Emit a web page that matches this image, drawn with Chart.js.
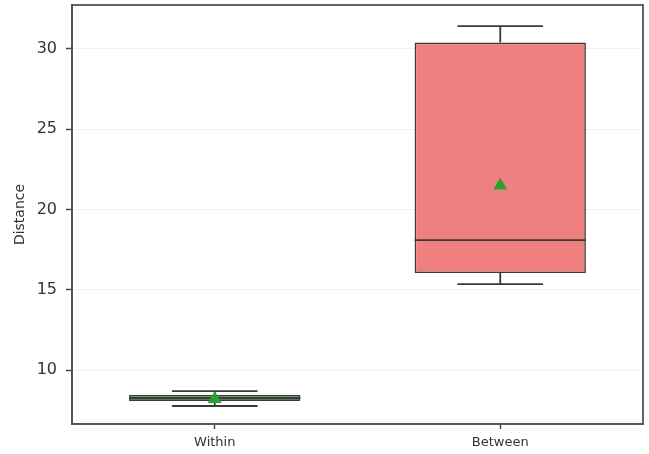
<!DOCTYPE html>
<html lang="en">
<head>
  <meta charset="UTF-8" />
  <title>Distance box plot</title>
  <script src="https://cdn.jsdelivr.net/npm/chart.js"></script>
  <style>
    body { margin: 0; background: #fff; }
    #wrap { width: 649px; height: 454px; }
  </style>
</head>
<body>
  <div id="wrap"><canvas id="boxChart" width="649" height="454"></canvas></div>

  <script>
    // data
    const groups = ["Within", "Between"];
    const lowerWhisker = [7.76, 15.35];
    const q1 = [8.08, 16.04];
    const median = [8.26, 18.09];
    const q3 = [8.45, 30.4];
    const upperWhisker = [8.69, 31.43];
    const means = [8.2, 21.5];
    const boxColors = ["#3f9a3f", "#f08080"];
    const yTicks = [10, 15, 20, 25, 30];

    // whiskers, caps and median line on top of the boxes
    const whiskerPlugin = {
      id: "whiskers",
      afterDatasetDraw(chart, args) {
        if (args.index !== 0) return;
        const ctx = chart.ctx;
        const y = chart.scales.y;
        const bars = args.meta.data;
        ctx.save();
        ctx.strokeStyle = "#3a3a3a";
        ctx.lineWidth = 1.8;
        bars.forEach((bar, i) => {
          const cx = bar.x;
          const half = bar.width / 2;
          const capHalf = half / 2;
          ctx.beginPath();
          // upper whisker + cap
          ctx.moveTo(cx, y.getPixelForValue(q3[i]));
          ctx.lineTo(cx, y.getPixelForValue(upperWhisker[i]));
          ctx.moveTo(cx - capHalf, y.getPixelForValue(upperWhisker[i]));
          ctx.lineTo(cx + capHalf, y.getPixelForValue(upperWhisker[i]));
          // lower whisker + cap
          ctx.moveTo(cx, y.getPixelForValue(q1[i]));
          ctx.lineTo(cx, y.getPixelForValue(lowerWhisker[i]));
          ctx.moveTo(cx - capHalf, y.getPixelForValue(lowerWhisker[i]));
          ctx.lineTo(cx + capHalf, y.getPixelForValue(lowerWhisker[i]));
          // median
          ctx.moveTo(cx - half, y.getPixelForValue(median[i]));
          ctx.lineTo(cx + half, y.getPixelForValue(median[i]));
          ctx.stroke();
        });
        ctx.restore();
      },
      afterDraw(chart) {
        // frame round the plot area
        const a = chart.chartArea;
        const ctx = chart.ctx;
        ctx.save();
        ctx.strokeStyle = "#555";
        ctx.lineWidth = 1.8;
        ctx.strokeRect(a.left, a.top, a.right - a.left, a.bottom - a.top);
        ctx.restore();
      }
    };

    new Chart(document.getElementById("boxChart"), {
      type: "bar",
      data: {
        labels: groups,
        datasets: [
          {
            label: "box",
            data: groups.map((g, i) => [q1[i], q3[i]]),
            backgroundColor: boxColors,
            borderColor: "#3a3a3a",
            borderWidth: 1.6,
            borderSkipped: false,
            barPercentage: 0.6,
            categoryPercentage: 1,
            order: 2
          },
          {
            type: "line",
            label: "mean",
            data: means,
            showLine: false,
            pointStyle: "triangle",
            pointRadius: 8,
            pointBackgroundColor: "#2ca02c",
            pointBorderColor: "#2ca02c",
            pointBorderWidth: 0,
            order: 1
          }
        ]
      },
      options: {
        responsive: false,
        animation: false,
        devicePixelRatio: 1,
        layout: { autoPadding: false, padding: { left: 0, top: 5, right: 6, bottom: 0 } },
        plugins: {
          legend: { display: false },
          tooltip: { enabled: false }
        },
        scales: {
          x: {
            offset: true,
            grid: { display: true, drawOnChartArea: false, offset: false, tickLength: 5, tickColor: "#444", tickWidth: 1.5 },
            border: { color: "#555", width: 1.8 },
            ticks: { color: "#333", font: { family: "DejaVu Sans", size: 13 }, padding: 6 },
            afterFit(scale) { scale.height = 30; scale.paddingLeft = 0; scale.paddingRight = 0; }
          },
          y: {
            min: 6.64,
            max: 32.74,
            afterBuildTicks(scale) { scale.ticks = yTicks.map(v => ({ value: v })); },
            grid: { color: "#efefef", tickLength: 6, tickColor: "#444", tickWidth: 1.5 },
            border: { color: "#555", width: 1.8 },
            ticks: { color: "#333", font: { family: "DejaVu Sans", size: 16 }, padding: 9 },
            title: {
              display: true,
              text: "Distance",
              color: "#333",
              font: { family: "DejaVu Sans", size: 14 },
              padding: { top: 12, bottom: 0 }
            },
            afterFit(scale) { scale.width = 72; scale.paddingTop = 0; scale.paddingBottom = 0; }
          }
        }
      },
      plugins: [whiskerPlugin]
    });
  </script>
</body>
</html>
